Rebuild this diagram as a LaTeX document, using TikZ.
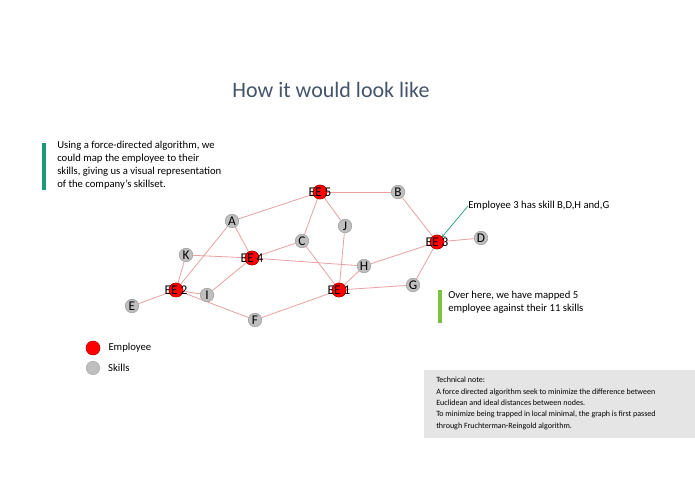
\documentclass[tikz,border=0pt]{standalone}
\usepackage{fontspec}
\setmainfont{Carlito}
\usetikzlibrary{positioning}
\definecolor{titlecol}{HTML}{44546A}
\definecolor{edgecol}{HTML}{E8A0A0}
\definecolor{barteal}{HTML}{1A9A7A}
\definecolor{bargreen}{HTML}{7AC143}
\tikzset{
  emp/.style={circle,fill=red,draw=red!70!black,inner sep=0pt,minimum size=10.5pt},
  skl/.style={circle,fill=gray!50,draw=gray!70,inner sep=0pt,minimum size=10pt},
  lbl/.style={font=\fontsize{10}{12}\selectfont},
  txt/.style={font=\fontsize{8}{9.6}\selectfont,align=left,anchor=north west,inner sep=0pt},
  link/.style={edgecol,line width=0.6pt}
}
\begin{document}
\begin{tikzpicture}[x=0.75pt,y=-0.75pt]
 \useasboundingbox (0,0) rectangle (695,494);
 \node[text=titlecol,font=\fontsize{16.5}{20}\selectfont] (title) at (331,90) {How it would look like};
 % side notes
 \fill[barteal] (42,143) rectangle (46,190);
 \node[txt] (intro) at (57,141) {Using a force-directed algorithm, we\\could map the employee to their\\skills, giving us a visual representation\\of the company's skillset.};
 \fill[bargreen] (438,290) rectangle (442,323);
 \node[txt] (over) at (448,291) {Over here, we have mapped 5\\employee against their 11 skills};
 % skill nodes
 \node[skl] (B) at (398,192) {};
 \node[skl] (A) at (232,221) {};
 \node[skl] (J) at (345,226) {};
 \node[skl] (C) at (302,241) {};
 \node[skl] (D) at (481,238) {};
 \node[skl] (K) at (186,255) {};
 \node[skl] (H) at (364,266) {};
 \node[skl] (I) at (207,295) {};
 \node[skl] (G) at (413,285) {};
 \node[skl] (E) at (132,306) {};
 \node[skl] (F) at (255,320) {};
 % employee nodes
 \node[emp] (e5) at (320,192) {};
 \node[emp] (e3) at (437,242) {};
 \node[emp] (e4) at (252,258) {};
 \node[emp] (e2) at (176,290) {};
 \node[emp] (e1) at (339,290) {};
 \begin{scope}[on background layer/.style={}]
 \foreach \a/\b in {e5/A,e5/B,e5/C,e5/J,A/e4,A/e2,K/e4,K/e2,e4/C,e4/H,e4/I,C/e1,J/e1,H/e1,H/e3,B/e3,e3/D,e3/G,G/e1,e1/F,e2/F,e2/I,e2/E}
  \draw[link] (\a) -- (\b);
 \end{scope}
 % redraw nodes on top of links
 \foreach \n in {B,A,J,C,D,K,H,I,G,E,F} \node[skl] at (\n) {};
 \foreach \n in {e5,e3,e4,e2,e1} \node[emp] at (\n) {};
 \foreach \n in {B,A,J,C,D,K,H,I,G,E,F} \node[lbl] at (\n) {\n};
 \node[lbl] at (e5) {EE 5};
 \node[lbl] at (e3) {EE 3};
 \node[lbl] at (e4) {EE 4};
 \node[lbl] at (e2) {EE 2};
 \node[lbl] at (e1) {EE 1};
 % callout
 \node[txt,anchor=west] (call) at (468,206) {Employee 3 has skill B,D,H and,G};
 \draw[->,barteal,line width=0.5pt] (call.west) -- (e3.north east);
 % legend
 \node[emp] (legE) at (93,348) {};
 \node[txt,anchor=west,right=6pt of legE] (legEt) {Employee};
 \node[skl] (legS) at (93,368) {};
 \node[txt,anchor=west,right=6pt of legS] (legSt) {Skills};
 % technical note
 \fill[gray!20] (424,370) rectangle (695,438);
 \node[txt,font=\fontsize{6}{8.5}\selectfont] (note) at (436,377) {Technical note:\\A force directed algorithm seek to minimize the difference between\\Euclidean and ideal distances between nodes.\\To minimize being trapped in local minimal, the graph is first passed\\through Fruchterman-Reingold algorithm.};
\end{tikzpicture}
\end{document}
